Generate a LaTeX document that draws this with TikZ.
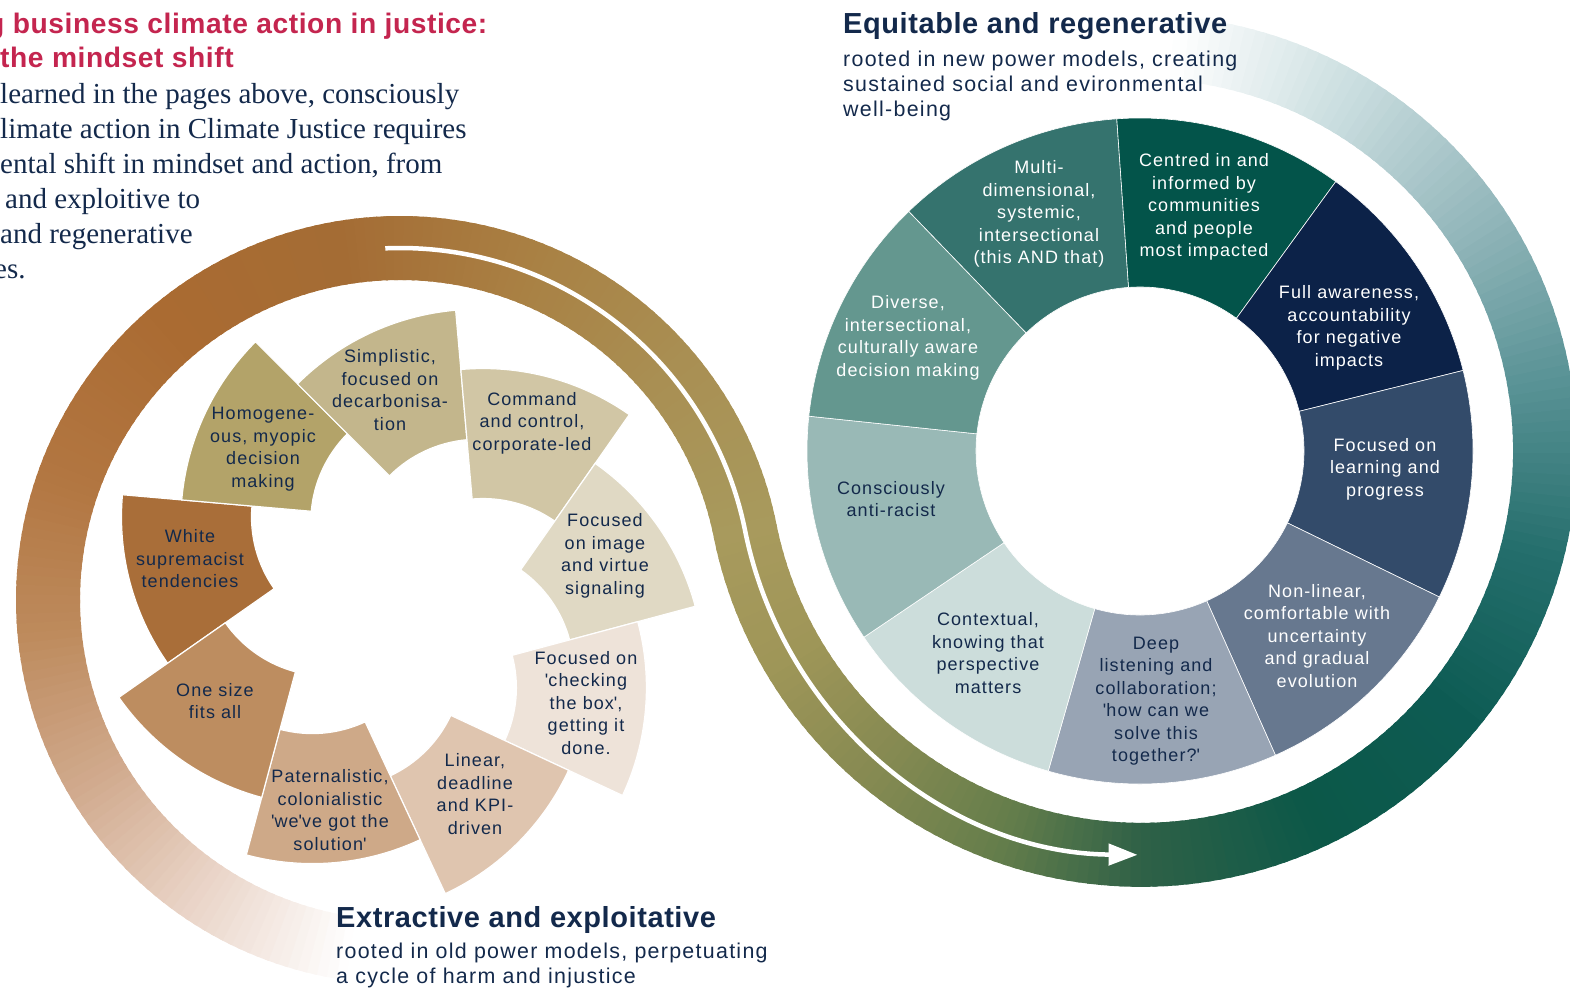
\documentclass[tikz,border=0pt]{standalone}
\usepackage{fontspec}
\usepackage{tikz}
\usetikzlibrary{calc,arrows.meta}
\setmainfont{Liberation Serif}
\newfontfamily\wedgefont[LetterSpace=6]{Liberation Sans}
\newfontfamily\headfont[LetterSpace=2]{Liberation Sans}

\definecolor{ink}{HTML}{13294B}
\definecolor{crimson}{HTML}{C4254F}
% old wheel
\definecolor{lA}{HTML}{A96E39}
\definecolor{lB}{HTML}{B3A369}
\definecolor{lC}{HTML}{C3B68C}
\definecolor{lD}{HTML}{D1C6A5}
\definecolor{lE}{HTML}{E0D9C4}
\definecolor{lF}{HTML}{EEE3D9}
\definecolor{lG}{HTML}{DFC5AF}
\definecolor{lH}{HTML}{CEA988}
\definecolor{lI}{HTML}{BD8D60}
% new wheel
\definecolor{rA}{HTML}{35736E}
\definecolor{rB}{HTML}{03544A}
\definecolor{rC}{HTML}{0C2248}
\definecolor{rD}{HTML}{334B6A}
\definecolor{rE}{HTML}{67788F}
\definecolor{rF}{HTML}{98A4B4}
\definecolor{rG}{HTML}{CCDDDB}
\definecolor{rH}{HTML}{99B9B6}
\definecolor{rI}{HTML}{64978F}
% band
\definecolor{bA}{HTML}{FFFFFF}
\definecolor{bB}{HTML}{E9D3C6}
\definecolor{bC}{HTML}{D0A98C}
\definecolor{bD}{HTML}{BD8A5C}
\definecolor{bE}{HTML}{B27641}
\definecolor{bF}{HTML}{AA6B32}
\definecolor{bG}{HTML}{A46C34}
\definecolor{bH}{HTML}{A98043}
\definecolor{bI}{HTML}{A98F53}
\definecolor{bJ}{HTML}{A89A5D}
\definecolor{bK}{HTML}{9F9658}
\definecolor{bL}{HTML}{868A52}
\definecolor{bM}{HTML}{657E4B}
\definecolor{bN}{HTML}{2F6147}
\definecolor{bO}{HTML}{0C5848}
\definecolor{bP}{HTML}{0D5B53}
\definecolor{bQ}{HTML}{246E6C}
\definecolor{bR}{HTML}{5A9396}
\definecolor{bS}{HTML}{95B8BC}
\definecolor{bT}{HTML}{CBDEE0}
\definecolor{bU}{HTML}{FFFFFF}

\tikzset{
  band/.style={line width=64},
  flow/.style={white, line width=4.5, -{Triangle[length=29pt,width=21pt]}},
  pinwedge/.style={draw=white, line width=1.2},
  ringwedge/.style={draw=white, line width=0.6},
  wtext/.style={align=center, inner sep=0, text=ink,
    font=\wedgefont\fontsize{18}{22.5}\selectfont},
  wlight/.style={wtext, text=white},
  para/.style={anchor=base west, inner sep=0, text=ink,
    font=\fontsize{29}{35}\selectfont},
  redhead/.style={anchor=base west, inner sep=0, text=crimson,
    font=\headfont\bfseries\fontsize{28.2}{35}\selectfont},
  headline/.style={anchor=base west, inner sep=0, text=ink,
    font=\headfont\bfseries\fontsize{29}{32}\selectfont},
  subline/.style={anchor=north west, inner sep=0, align=left, text=ink,
    font=\wedgefont\fontsize{21.4}{25}\selectfont}
}

\begin{document}
\begin{tikzpicture}[x=1pt,y=-1pt]
\useasboundingbox (0,0) rectangle (1570,988);
\clip (0,0) rectangle (1570,988);

\coordinate (loopL) at (400,600);
\coordinate (loopR) at ($(loopL)+(348.62:756)$);
\coordinate (pin) at (399,601);
\coordinate (hub) at (1140,451);

% the band, left loop then right loop
\foreach \a/\b/\ca/\cb in {98/125/bA/bB,125/150/bB/bC,150/175/bC/bD,175/200/bD/bE,
  200/230/bE/bF,230/260/bF/bG,260/290/bG/bH,290/320/bH/bI,320/348.62/bI/bJ}{
  \pgfmathtruncatemacro\n{ceil((\b-\a)/1.5)}
  \foreach \i in {1,...,\n}{
    \pgfmathsetmacro\t{\a+(\i-1)*(\b-\a)/\n}
    \pgfmathsetmacro\e{\t+1.4*(\b-\a)/\n}
    \pgfmathtruncatemacro\p{100*(\i-0.5)/\n}
    \draw[band, color=\cb!\p!\ca] (loopL) ++(\t:352) arc[start angle=\t, end angle=\e, radius=352];
  }
}
\foreach \a/\b/\ca/\cb in {168.62/150/bJ/bK,150/130/bK/bL,130/110/bL/bM,110/90/bM/bN,
  90/65/bN/bO,65/40/bO/bP,40/15/bP/bQ,15/-10/bQ/bR,-10/-35/bR/bS,-35/-60/bS/bT,-60/-85/bT/bU}{
  \pgfmathtruncatemacro\n{ceil((\a-\b)/1.5)}
  \foreach \i in {1,...,\n}{
    \pgfmathsetmacro\t{\a-(\i-1)*(\a-\b)/\n}
    \pgfmathsetmacro\e{\t-1.4*(\a-\b)/\n}
    \pgfmathtruncatemacro\p{100*(\i-0.5)/\n}
    \draw[band, color=\cb!\p!\ca] (loopR) ++(\t:404) arc[start angle=\t, end angle=\e, radius=404];
  }
}

% white arrow along the band
\coordinate (flowstart) at ($(loopL)+(267.6:352)$);
\draw[flow] (flowstart) arc[start angle=267.6, end angle=348.62, radius=352]
  arc[start angle=168.62, end angle=90.5, radius=404];

% pinwheel
\foreach \m/\col in {165/lA,205/lB,245/lC,285/lD,325/lE,5/lF,45/lG,85/lH,125/lI}{
  \path (pin) ++(\m+90:87) coordinate (apex);
  \filldraw[pinwedge, fill=\col] (apex) ++(\m-20:255)
    arc[start angle=\m-20, end angle=\m+20, radius=255]
    -- ($(apex)+(\m+20:125)$)
    arc[start angle=\m+20, end angle=\m-20, radius=125] -- cycle;
}

% ring
\foreach \a/\col in {226/rA,266/rB,306/rC,346/rD,26/rE,66/rF,106/rG,146/rH,186/rI}{
  \filldraw[ringwedge, fill=\col] (hub) ++(\a:333)
    arc[start angle=\a, end angle=\a+40, radius=333]
    -- ($(hub)+(\a+40:164)$)
    arc[start angle=\a+40, end angle=\a, radius=164] -- cycle;
}

% old wheel labels
\node[wtext] (wsup) at (190,559) {White\\supremacist\\tendencies};
\node[wtext] (homog) at (263,449) {Homogene-\\ous, myopic\\decision\\making};
\node[wtext] (simpl) at (390,390) {Simplistic,\\focused on\\decarbonisa-\\tion};
\node[wtext] (command) at (532,423) {Command\\and control,\\corporate-led};
\node[wtext] (image) at (605,556) {Focused\\on image\\and virtue\\signaling};
\node[wtext] (checkbox) at (586,703) {Focused on\\\textquotesingle checking\\the box\textquotesingle,\\getting it\\done.};
\node[wtext] (linear) at (475,794) {Linear,\\deadline\\and KPI-\\driven};
\node[wtext] (patern) at (330,810) {Paternalistic,\\colonialistic\\\textquotesingle we\textquotesingle ve got the\\solution\textquotesingle};
\node[wtext] (onesize) at (215,701) {One size\\fits all};

% new wheel labels
\node[wlight] (multi) at (1039,214) {Multi-\\dimensional,\\systemic,\\intersectional\\(this AND that)};
\node[wlight] (centred) at (1204,207) {Centred in and\\informed by\\communities\\and people\\most impacted};
\node[wlight] (aware) at (1349,328) {Full awareness,\\accountability\\for negative\\impacts};
\node[wlight] (learning) at (1385,469) {Focused on\\learning and\\progress};
\node[wlight] (nonlinear) at (1317,636) {Non-linear,\\comfortable with\\uncertainty\\and gradual\\evolution};
\node[wtext] (deep) at (1156,701) {Deep\\listening and\\collaboration;\\\textquotesingle how can we\\solve this\\together?\textquotesingle};
\node[wtext] (context) at (988,653) {Contextual,\\knowing that\\perspective\\matters};
\node[wtext] (antiracist) at (891,499) {Consciously\\anti-racist};
\node[wlight] (diverse) at (908,338) {Diverse,\\intersectional,\\culturally aware\\decision making};

% headings
\node[headline] (newtitle) at (843,33) {Equitable and regenerative};
\node[subline] (newsub) at (843,50.5) {rooted in new power models, creating\\sustained social and evironmental\\well-being};
\node[headline] (oldtitle) at (336,927) {Extractive and exploitative};
\node[subline] (oldsub) at (336,943) {rooted in old power models, perpetuating\\a cycle of harm and injustice};

% intro text, cut at the left edge
\node[redhead] (redA) at (-13,33) {g business climate action in justice:};
\node[redhead] (redB) at (0,67) {the mindset shift};
\node[para] (paraA) at (0,103) {learned in the pages above, consciously};
\node[para] (paraB) at (0,138) {limate action in Climate Justice requires};
\node[para] (paraC) at (0,173) {ental shift in mindset and action, from};
\node[para] (paraD) at (5,208) {and exploitive to};
\node[para] (paraE) at (0,243) {and regenerative};
\node[para] (paraF) at (-6,278) {es.};
\end{tikzpicture}
\end{document}
